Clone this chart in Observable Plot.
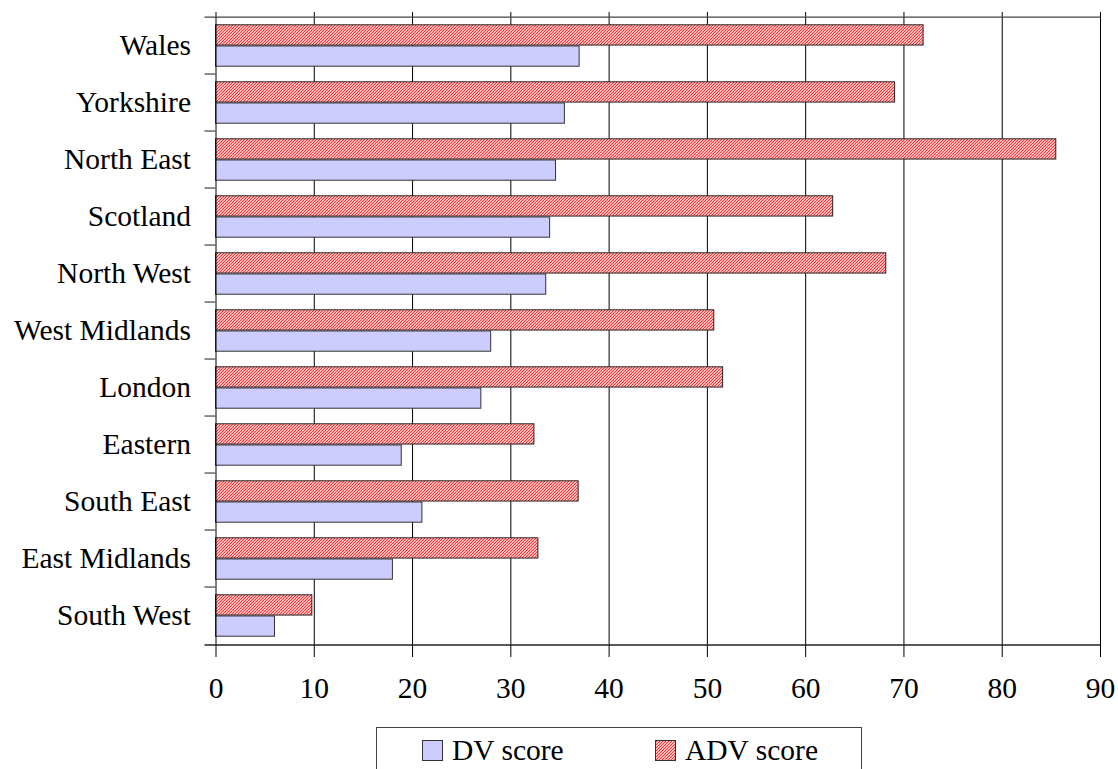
<!DOCTYPE html>
<html>
<head>
<meta charset="utf-8">
<script src="https://cdn.jsdelivr.net/npm/d3@7"></script>
<script src="https://cdn.jsdelivr.net/npm/@observablehq/plot@0.6"></script>
<style>
  body { margin: 0; background: #fff; font-family: "Liberation Serif", "Times New Roman", serif; }
  #wrap { position: relative; width: 1118px; height: 769px; overflow: hidden; }
  #defs { position: absolute; width: 0; height: 0; }
  .legend { position: absolute; left: 376px; top: 727px; width: 486px; height: 60px;
            border: 1px solid #444; box-sizing: border-box; font-size: 29.5px; line-height: 29.5px; color: #000; }
  .swatch { position: absolute; top: 12px; }
  .label { position: absolute; top: 8px; white-space: nowrap; }
</style>
</head>
<body>
<div id="wrap">
  <svg id="defs" aria-hidden="true">
    <defs>
      <pattern id="adv-hatch" patternUnits="userSpaceOnUse" width="3" height="3">
        <rect width="3" height="3" fill="#ffffff"></rect>
        <path d="M0,3 L3,0 M-1,1 L1,-1 M2,4 L4,2" stroke="#ff2a2a" stroke-width="1.2"></path>
      </pattern>
    </defs>
  </svg>
  <div id="chart"></div>
  <div class="legend" id="legend"></div>
</div>
<script>
// Regions, top to bottom
const regions = ["Wales", "Yorkshire", "North East", "Scotland", "North West", "West Midlands",
                 "London", "Eastern", "South East", "East Midlands", "South West"];
// Scores per region
const dvScore  = [37.0, 35.5, 34.6, 34.0, 33.6, 28.0, 27.0, 18.9, 21.0, 18.0, 6.0];
const advScore = [72.0, 69.1, 85.5, 62.8, 68.2, 50.7, 51.6, 32.4, 36.9, 32.8, 9.8];
const seriesNames = ["DV score", "ADV score"];
const xTicks = [0, 10, 20, 30, 40, 50, 60, 70, 80, 90];

const rows = regions.map((region, i) => ({region, dv: dvScore[i], adv: advScore[i]}));

const width = 1118, height = 715;
const marginTop = 12, marginBottom = 66, marginLeft = 215.5, marginRight = 18;
const bw = (height - marginTop - marginBottom) / regions.length; // band height
const gap = 7.8;                 // space above and below each pair of bars
const barH = (bw - 2 * gap) / 2; // height of a single bar
const fontSize = 29.5;
const ink = "#000";

const chart = Plot.plot({
  width, height, marginTop, marginBottom, marginLeft, marginRight,
  style: {fontFamily: "'Liberation Serif', 'Times New Roman', serif", fontSize: `${fontSize}px`, color: ink, background: "#fff"},
  x: {domain: [0, 90]},
  y: {domain: regions, padding: 0},
  marks: [
    // vertical gridlines
    Plot.gridX(xTicks.slice(1), {stroke: ink, strokeOpacity: 1, strokeWidth: 1}),
    // ADV score (hatched, upper bar)
    Plot.barX(rows, {y: "region", x: "adv", fill: "url(#adv-hatch)", stroke: "#222", strokeWidth: 1,
                     insetTop: gap, insetBottom: bw - gap - barH}),
    // DV score (lavender, lower bar)
    Plot.barX(rows, {y: "region", x: "dv", fill: "#ccccff", stroke: "#333", strokeWidth: 1,
                     insetTop: gap + barH, insetBottom: gap}),
    // value axis line on the left
    Plot.ruleX([0], {stroke: ink, strokeWidth: 1}),
    // top edge and bottom axis line, extended left across the category ticks
    Plot.ruleY([regions[0]], {dy: -bw / 2, x1: 0, x2: 90, insetLeft: -11, stroke: "#444", strokeWidth: 1.2}),
    Plot.ruleY([regions[regions.length - 1]], {dy: bw / 2, x1: 0, x2: 90, insetLeft: -11, stroke: "#222", strokeWidth: 1.5}),
    // category boundary ticks
    Plot.ruleY(regions.slice(1), {dy: -bw / 2, x1: 0, x2: 0, insetLeft: -11, stroke: "#444", strokeWidth: 1.2}),
    // axes
    Plot.axisX(xTicks, {tickSize: 8, tickPadding: 20, fontSize, label: null, stroke: ink}),
    Plot.axisY({tickSize: 0, tickPadding: 25, fontSize, label: null})
  ]
});
document.getElementById("chart").append(chart);

// legend below the chart
const legend = d3.select("#legend");
const swatchFills = ["#ccccff", "url(#adv-hatch)"];
const swatchLeft = [45, 278];
seriesNames.forEach((name, i) => {
  const sw = legend.append("svg").attr("class", "swatch").attr("width", 22).attr("height", 22)
    .style("left", `${swatchLeft[i]}px`);
  sw.append("rect").attr("x", 0.5).attr("y", 0.5).attr("width", 20).attr("height", 20)
    .attr("fill", swatchFills[i]).attr("stroke", "#333");
  legend.append("span").attr("class", "label").style("left", `${swatchLeft[i] + 30}px`).text(name);
});
</script>
</body>
</html>
